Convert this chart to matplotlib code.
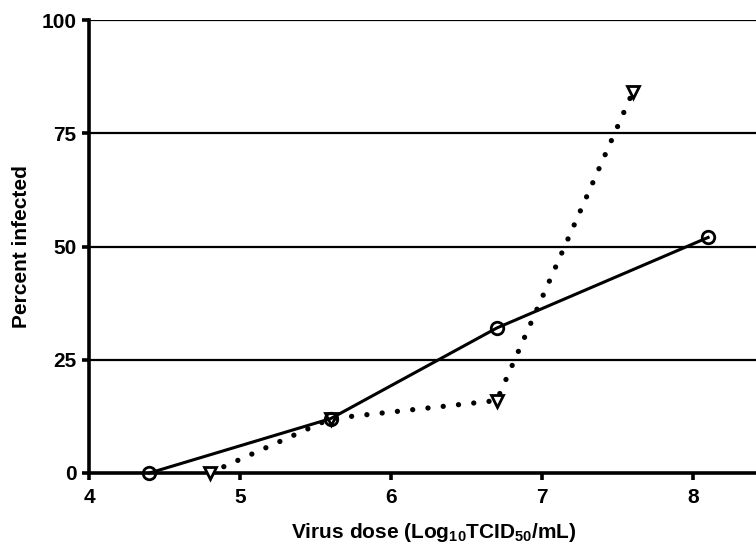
import matplotlib
matplotlib.use("Agg")
import matplotlib.pyplot as plt

plt.rcParams['font.family'] = ['Liberation Sans', 'DejaVu Sans']
plt.rcParams['mathtext.fontset'] = 'custom'
plt.rcParams['mathtext.rm'] = 'Liberation Sans:bold'
plt.rcParams['mathtext.bf'] = 'Liberation Sans:bold'
plt.rcParams['mathtext.it'] = 'Liberation Sans:bold'
plt.rcParams['mathtext.default'] = 'rm'

circle_x = [4.4, 5.6, 6.7, 8.1]
circle_y = [0, 12, 32, 52]
tri_x = [4.8, 5.6, 6.7, 7.6]
tri_y = [0, 12, 16, 84]
xticks = [4, 5, 6, 7, 8]
yticks = [0, 25, 50, 75, 100]

fig = plt.figure(figsize=(7.56, 5.53), dpi=100)
ax = fig.add_axes([89/756, 80/553, (756-89)/756, 453/553])
ax.set_xlim(4, 4 + (756-89)/151)
ax.set_ylim(0, 100)

for yv in yticks[1:]:
    ax.axhline(yv, color='black', lw=1.6, zorder=1)

ax.plot(tri_x, tri_y, color='black', lw=3.8, linestyle=(0, (0.01, 2.9)),
        dash_capstyle='round', marker='v', markersize=9, markerfacecolor='white',
        markeredgecolor='black', markeredgewidth=2, zorder=3, clip_on=False)
ax.plot(circle_x, circle_y, color='black', lw=2.2, marker='o', markersize=9,
        markerfacecolor='none', markeredgecolor='black', markeredgewidth=2,
        zorder=4, clip_on=False)

for s in ['top', 'right']:
    ax.spines[s].set_visible(False)
for s in ['left', 'bottom']:
    ax.spines[s].set_linewidth(2.6)

ax.set_xticks(xticks)
ax.set_yticks(yticks)
ax.tick_params(axis='both', direction='out', length=5, width=2.6,
               labelsize=15, pad=4)
for lab in ax.get_xticklabels() + ax.get_yticklabels():
    lab.set_fontweight('bold')
ax.tick_params(axis='x', pad=6)

ax.set_ylabel('Percent infected', fontsize=15, fontweight='bold')
ax.set_xlabel('Virus dose (Log$_{10}$TCID$_{50}$/mL)',
              fontsize=15, fontweight='bold')
ax.xaxis.set_label_coords((434-89)/(756-89), -(533-473)/453)
ax.xaxis.label.set_va('center')
ax.yaxis.set_label_coords(-(89-21.5)/(756-89), 0.5)
ax.yaxis.label.set_va('center')

fig.savefig('out.png', dpi=100)
